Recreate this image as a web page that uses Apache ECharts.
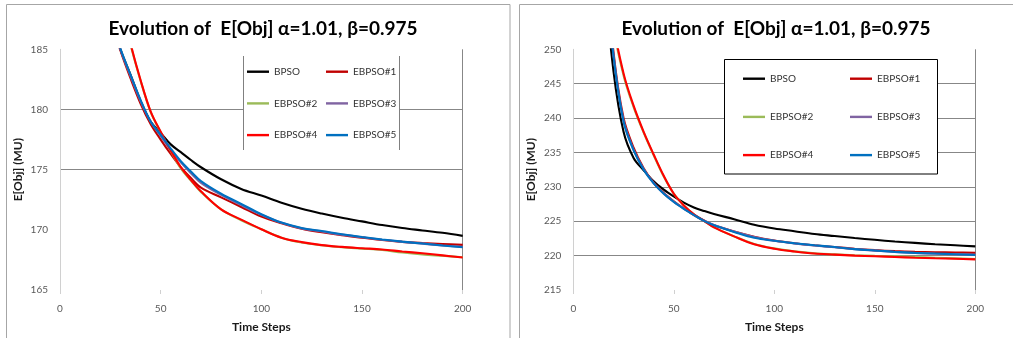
<!DOCTYPE html>
<html>
<head>
<meta charset="utf-8">
<script src="https://cdn.jsdelivr.net/npm/echarts@6/dist/echarts.min.js"></script>
<style>
  html, body { margin: 0; padding: 0; background: #fff; }
  #chart { width: 1013px; height: 338px; }
</style>
</head>
<body>
<div id="chart"></div>
<script>
// ---------------- data ----------------
const titleText = 'Evolution of  E[Obj] \u03b1=1.01, \u03b2=0.975';
const xAxisName = 'Time Steps';
const yAxisName = 'E[Obj] (MU)';
const seriesNames = ['BPSO', 'EBPSO#1', 'EBPSO#2', 'EBPSO#3', 'EBPSO#4', 'EBPSO#5'];
const xTicks = [0, 50, 100, 150, 200];
const leftYTicks = [165, 170, 175, 180, 185];
const rightYTicks = [215, 220, 225, 230, 235, 240, 245, 250];

const steps = [10, 15, 20, 25, 30, 35, 40, 45, 50, 55, 60, 65, 70, 80, 90, 100, 110, 120, 130, 140, 150, 160, 170, 180, 190, 200];

// left panel
const leftBPSO   = [205, 197.5, 191.5, 187.8, 185.0, 182.9, 180.7, 179.0, 178.05, 177.1, 176.45, 175.8, 175.2, 174.2, 173.4, 172.85, 172.25, 171.75, 171.35, 171.0, 170.7, 170.4, 170.15, 169.95, 169.75, 169.5];
const leftEBPSO1 = [204, 197, 191.2, 187.6, 184.9, 182.6, 180.5, 178.8, 177.5, 176.3, 175.2, 174.3, 173.5, 172.7, 171.9, 171.1, 170.55, 170.1, 169.8, 169.55, 169.35, 169.15, 169.0, 168.9, 168.82, 168.75];
const leftEBPSO2 = [214, 204.5, 197.8, 192.8, 189.0, 185.4, 182.4, 179.8, 178.1, 176.55, 175.1, 174.1, 173.15, 171.7, 170.8, 170.05, 169.35, 168.95, 168.72, 168.56, 168.44, 168.32, 168.12, 167.96, 167.84, 167.72];
const leftEBPSO3 = [205, 197.4, 191.4, 187.7, 185.0, 182.8, 180.7, 179.0, 177.8, 176.6, 175.6, 174.7, 173.9, 172.9, 172.05, 171.25, 170.58, 170.12, 169.86, 169.6, 169.38, 169.18, 169.0, 168.85, 168.7, 168.58];
const leftEBPSO4 = [215, 205, 198, 193, 189.2, 185.5, 182.45, 179.85, 178.15, 176.6, 175.2, 174.15, 173.2, 171.7, 170.85, 170.05, 169.35, 168.98, 168.73, 168.58, 168.47, 168.37, 168.2, 168.05, 167.88, 167.7];
const leftEBPSO5 = [205, 197.5, 191.5, 187.8, 185.05, 182.9, 180.8, 179.0, 177.9, 176.75, 175.7, 174.85, 174.05, 173.0, 172.15, 171.3, 170.6, 170.15, 169.9, 169.63, 169.4, 169.2, 169.02, 168.86, 168.7, 168.55];

// right panel
const rightBPSO   = [285, 262, 246.8, 238.0, 234.2, 232.4, 230.8, 229.6, 228.6, 227.7, 227.0, 226.5, 226.05, 225.3, 224.5, 223.95, 223.55, 223.15, 222.85, 222.55, 222.3, 222.05, 221.85, 221.65, 221.5, 221.35];
const rightEBPSO1 = [292, 267, 249.6, 240.0, 235.7, 232.7, 230.6, 229.1, 227.9, 226.85, 225.9, 225.1, 224.4, 223.5, 222.75, 222.2, 221.8, 221.5, 221.25, 221.0, 220.8, 220.65, 220.55, 220.5, 220.45, 220.4];
const rightEBPSO2 = [299, 274, 253.5, 246.2, 241.6, 237.9, 234.6, 231.5, 229.0, 227.3, 226.0, 225.05, 224.1, 222.8, 221.7, 221.05, 220.62, 220.33, 220.18, 220.05, 219.97, 219.9, 219.8, 219.7, 219.6, 219.5];
const rightEBPSO3 = [290, 265, 249.2, 239.6, 235.4, 232.6, 230.55, 229.05, 227.85, 226.85, 225.95, 225.1, 224.45, 223.5, 222.72, 222.15, 221.78, 221.48, 221.22, 220.95, 220.73, 220.52, 220.38, 220.28, 220.2, 220.15];
const rightEBPSO4 = [300, 275, 254, 246.5, 241.8, 238.0, 234.7, 231.6, 229.0, 227.3, 226.0, 225.05, 224.1, 222.8, 221.65, 221.0, 220.6, 220.3, 220.15, 220.0, 219.9, 219.8, 219.7, 219.62, 219.55, 219.45];
const rightEBPSO5 = [290, 265, 249.0, 239.5, 235.3, 232.5, 230.5, 229.0, 227.8, 226.8, 225.9, 225.05, 224.4, 223.45, 222.6, 222.15, 221.8, 221.5, 221.25, 220.95, 220.75, 220.55, 220.4, 220.3, 220.2, 220.1];

// ---------------- styling ----------------
const FONT = 'Lato';
const seriesColors = ['#000000', '#C00000', '#9BBB59', '#8064A2', '#FF0000', '#0070C0'];
const GRID_COLOR = '#878787';
const leftData = [leftBPSO, leftEBPSO1, leftEBPSO2, leftEBPSO3, leftEBPSO4, leftEBPSO5];
const rightData = [rightBPSO, rightEBPSO1, rightEBPSO2, rightEBPSO3, rightEBPSO4, rightEBPSO5];

function splitColors(ticks, shown) {
  return ticks.map(t => shown.indexOf(t) >= 0 ? GRID_COLOR : 'rgba(0,0,0,0)');
}

function makeX(gridIndex) {
  return {
    type: 'value', gridIndex: gridIndex,
    min: xTicks[0], max: xTicks[xTicks.length - 1], interval: 50,
    name: xAxisName, nameLocation: 'middle', nameGap: 31,
    nameTextStyle: { fontFamily: FONT, fontWeight: 'bold', fontSize: 12, color: '#1a1a1a' },
    axisLine: { show: false },
    axisTick: { show: true, length: 4, lineStyle: { color: '#d0d0d0' } },
    axisLabel: { margin: 14, fontFamily: FONT, fontSize: 10, color: '#595959' },
    splitLine: { show: true, lineStyle: { color: splitColors(xTicks, [200]), width: 1 } }
  };
}
function makeY(gridIndex, ticks, shown) {
  return {
    type: 'value', gridIndex: gridIndex,
    min: ticks[0], max: ticks[ticks.length - 1], interval: 5,
    name: yAxisName, nameLocation: 'middle', nameGap: 36, nameRotate: 90,
    nameTextStyle: { fontFamily: FONT, fontWeight: 'bold', fontSize: 12, color: '#1a1a1a' },
    axisLine: { show: true, lineStyle: { color: '#d0d0d0', width: 1 } },
    axisTick: { show: false },
    axisLabel: { margin: 12, fontFamily: FONT, fontSize: 10, color: '#595959' },
    splitLine: { show: true, showMinLine: true, showMaxLine: true, lineStyle: { color: splitColors(ticks, shown), width: 1 } }
  };
}

const series = [];
[leftData, rightData].forEach((panel, gi) => {
  panel.forEach((vals, si) => {
    series.push({
      type: 'line', name: seriesNames[si],
      xAxisIndex: gi, yAxisIndex: gi,
      data: steps.map((s, i) => [s, vals[i]]),
      showSymbol: false, symbol: 'none',
      smooth: 0.35,
      clip: true,
      lineStyle: { color: seriesColors[si], width: 2.1 },
      itemStyle: { color: seriesColors[si] },
      emphasis: { disabled: true },
      animation: false
    });
  });
});

function makeLegend(names, left, top, gap) {
  return {
    orient: 'vertical', left: left, top: top,
    data: names.map(n => ({ name: n, icon: 'rect' })),
    itemWidth: 22, itemHeight: 2.4, itemGap: gap, padding: 0,
    textStyle: { fontFamily: FONT, fontSize: 10, color: '#333333', lineHeight: 14, height: 14 },
    selectedMode: false
  };
}

const option = {
  animation: false,
  backgroundColor: '#ffffff',
  title: [
    { text: titleText, left: 258, top: 14, textAlign: 'center',
      textStyle: { fontFamily: FONT, fontWeight: 'bold', fontSize: 19, color: '#000' } },
    { text: titleText, left: 771, top: 14, textAlign: 'center',
      textStyle: { fontFamily: FONT, fontWeight: 'bold', fontSize: 19, color: '#000' } }
  ],
  grid: [
    { left: 60, top: 49.3, width: 402.7, height: 243.4 },
    { left: 573.3, top: 49.3, width: 402, height: 243.4 }
  ],
  xAxis: [makeX(0), makeX(1)],
  yAxis: [makeY(0, leftYTicks, [175, 180]), makeY(1, rightYTicks, [220, 225, 230, 235, 240, 245])],
  legend: [
    makeLegend(['BPSO', 'EBPSO#2', 'EBPSO#4'], 247, 64.7, 17.7),
    makeLegend(['EBPSO#1', 'EBPSO#3', 'EBPSO#5'], 326, 64.7, 17.7),
    makeLegend(['BPSO', 'EBPSO#2', 'EBPSO#4'], 743, 71.7, 24.2),
    makeLegend(['EBPSO#1', 'EBPSO#3', 'EBPSO#5'], 850, 71.7, 24.2)
  ],
  graphic: [
    { type: 'rect', shape: { x: 6.5, y: 4.5, width: 503.5, height: 400 }, style: { fill: 'none', stroke: '#a6a6a6', lineWidth: 1 }, z: 1, silent: true },
    { type: 'rect', shape: { x: 519.5, y: 4.5, width: 600, height: 400 }, style: { fill: 'none', stroke: '#a6a6a6', lineWidth: 1 }, z: 1, silent: true },
    { type: 'rect', shape: { x: 243.5, y: 56, width: 155.5, height: 94 }, style: { fill: '#ffffff', stroke: null }, z: 3, silent: true },
    { type: 'line', shape: { x1: 243.5, y1: 56, x2: 243.5, y2: 150 }, style: { stroke: '#808080', lineWidth: 1 }, z: 3, silent: true },
    { type: 'line', shape: { x1: 399.5, y1: 56, x2: 399.5, y2: 150 }, style: { stroke: '#808080', lineWidth: 1 }, z: 3, silent: true },
    { type: 'rect', shape: { x: 724.5, y: 59.5, width: 213, height: 114.5 }, style: { fill: '#ffffff', stroke: '#000000', lineWidth: 1 }, z: 3, silent: true }
  ],
  series: series
};

const chart = echarts.init(document.getElementById('chart'), null, { renderer: 'canvas' });
chart.setOption(option);
</script>
</body>
</html>
